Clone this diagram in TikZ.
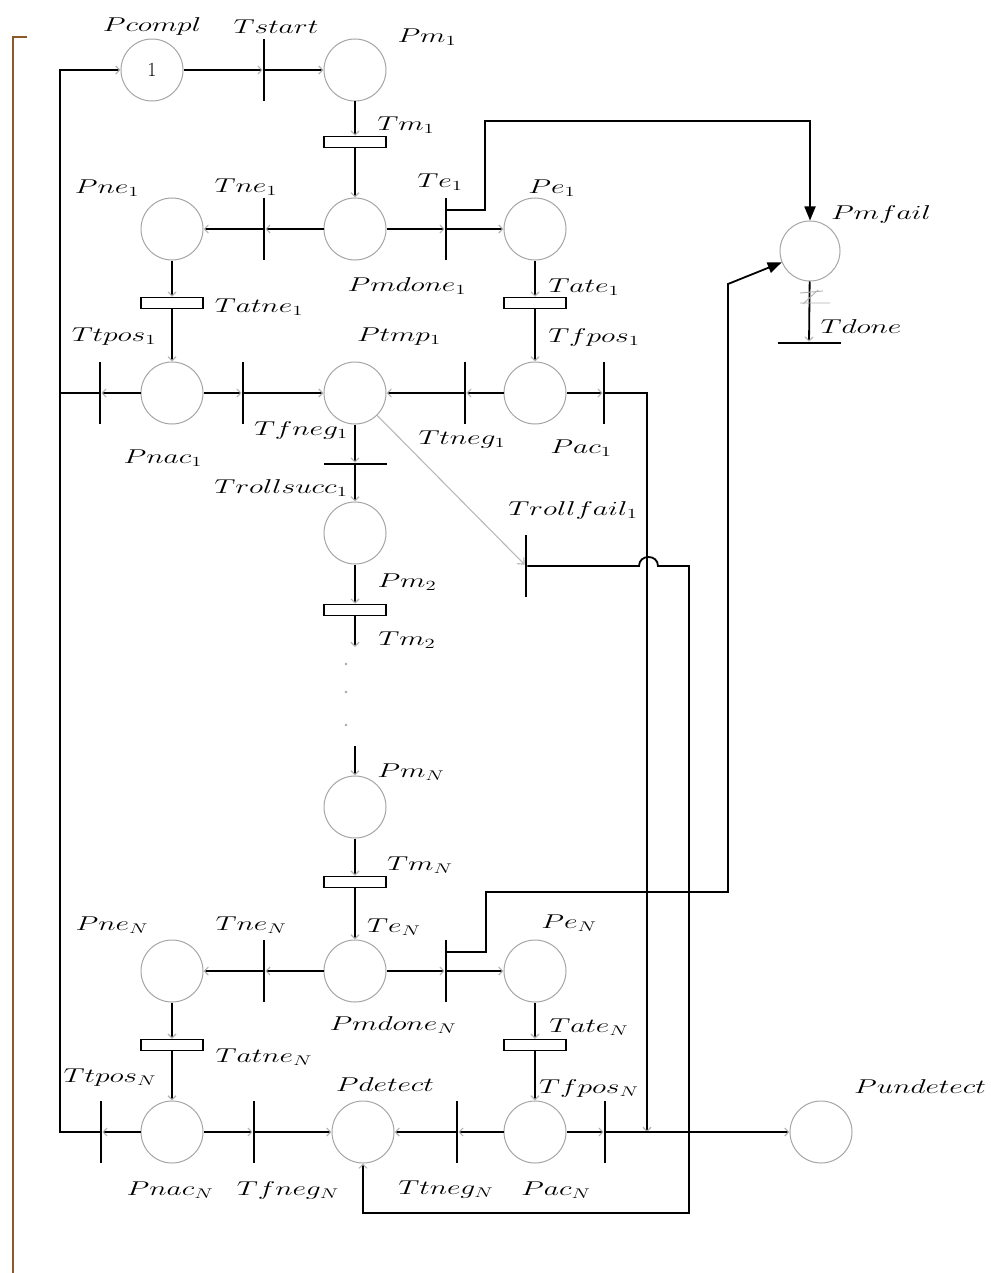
\RequirePackage{fix-cm}
\documentclass[tikz,border=0pt]{standalone}
\usepackage{graphicx}
\usetikzlibrary{arrows.meta}
\newcommand{\lb}[1]{\scalebox{1.48}[1]{$#1$}}
\definecolor{brownline}{RGB}{140,90,40}
\begin{document}
\begin{tikzpicture}[x=1pt,y=-1pt,
  every node/.style={font=\fontsize{20}{24}\selectfont},
  place/.style={circle,draw=gray!70,line width=1pt,minimum size=62pt,inner sep=0pt},
  vbar/.style={rectangle,fill=black,draw=none,minimum width=2.2pt,minimum height=62pt,inner sep=0pt},
  hbar/.style={rectangle,fill=black,draw=none,minimum width=63pt,minimum height=2.2pt,inner sep=0pt},
  timed/.style={rectangle,draw=black,fill=white,line width=1.5pt,minimum width=62pt,minimum height=11pt,inner sep=0pt},
  arc/.style={line width=1.8pt,-{Straight Barb[length=4pt,width=8pt,line width=1.1pt,color=gray!60]}},
  wire/.style={line width=1.8pt},
  bold/.style={line width=1.8pt,-{Triangle[length=14pt,width=11pt]}},
  graydiag/.style={gray!55,line width=1.1pt,-{Straight Barb[length=5pt,width=9pt,line width=1.1pt,color=gray!60]}},
  lab/.style={inner sep=0pt},
]
\useasboundingbox[fill=white] (0,0) rectangle (990,1273);
\draw[brownline,line width=1.5pt] (27,37) -- (13,37) -- (13,1273);

% places and transitions
\node[place] (pcompl) at (152,70) {1};
\node[vbar] (tstart) at (264,70) {};
\node[place] (pm1) at (355,70) {};
\node[timed] (tm1) at (355,142) {};
\node[place] (pmdone1) at (355,229) {};
\node[place] (pne1) at (172,229) {};
\node[vbar] (tne1) at (264,229) {};
\node[vbar] (te1) at (446,229) {};
\node[place] (pe1) at (535,229) {};
\node[timed] (tatne1) at (172,303) {};
\node[timed] (tate1) at (535,303) {};
\node[vbar] (ttpos1) at (100,393) {};
\node[place] (pnac1) at (172,393) {};
\node[vbar] (tfneg1) at (243,393) {};
\node[place] (ptmp1) at (355,393) {};
\node[vbar] (ttneg1) at (465,393) {};
\node[place] (pac1) at (535,393) {};
\node[vbar] (tfpos1) at (604,393) {};
\node[hbar] (trollsucc1) at (355,464) {};
\node[vbar] (trollfail1) at (526,566) {};
\node[place] (pm2) at (355,533) {};
\node[timed] (tm2) at (355,610) {};
\node[place] (pmN) at (355,807) {};
\node[timed] (tmN) at (355,882) {};
\node[place] (pmdoneN) at (355,971) {};
\node[place] (pneN) at (172,971) {};
\node[vbar] (tneN) at (264,971) {};
\node[vbar] (teN) at (446,971) {};
\node[place] (peN) at (535,971) {};
\node[timed] (tatneN) at (172,1045) {};
\node[timed] (tateN) at (535,1045) {};
\node[vbar] (ttposN) at (101,1132) {};
\node[place] (pnacN) at (172,1132) {};
\node[vbar] (tfnegN) at (254,1132) {};
\node[place] (pdetect) at (363,1132) {};
\node[vbar] (ttnegN) at (457,1132) {};
\node[place] (pacN) at (535,1132) {};
\node[vbar] (tfposN) at (605,1132) {};
\node[place] (pundetect) at (821,1132) {};
\node[place,minimum size=60pt] (pmfail) at (810,251) {};
\node[hbar] (tdone) at (809,343) {};

\coordinate (tm2end) at (355,647);
\coordinate (pmNstart) at (355,746);

% labels
\node[lab] (l1) at (152,27) {\lb{Pcompl}};
\node[lab] (l2) at (276,27) {\lb{Tstart}};
\node[lab] (l3) at (427,37) {\lb{Pm_1}};
\node[lab] (l4) at (406,125) {\lb{Tm_1}};
\node[lab] (l5) at (107,188) {\lb{Pne_1}};
\node[lab] (l6) at (246,187) {\lb{Tne_1}};
\node[lab] (l7) at (440,182) {\lb{Te_1}};
\node[lab] (l8) at (552,188) {\lb{Pe_1}};
\node[lab] (l9) at (881,215) {\lb{Pmfail}};
\node[lab] (l10) at (407,286) {\lb{Pmdone_1}};
\node[lab] (l11) at (259,307) {\lb{Tatne_1}};
\node[lab] (l12) at (584,287) {\lb{Tate_1}};
\node[lab] (l13) at (861,327) {\lb{Tdone}};
\node[lab] (l14) at (114,337) {\lb{Ttpos_1}};
\node[lab] (l15) at (399,337) {\lb{Ptmp_1}};
\node[lab] (l16) at (594,337) {\lb{Tfpos_1}};
\node[lab] (l17) at (301,430) {\lb{Tfneg_1}};
\node[lab] (l18) at (462,440) {\lb{Ttneg_1}};
\node[lab] (l19) at (581,448) {\lb{Pac_1}};
\node[lab] (l20) at (163,458) {\lb{Pnac_1}};
\node[lab] (l21) at (281,488) {\lb{Trollsucc_1}};
\node[lab] (l22) at (573,510) {\lb{Trollfail_1}};
\node[lab] (l23) at (407,582) {\lb{Pm_2}};
\node[lab] (l24) at (407,640) {\lb{Tm_2}};
\node[lab] (l25) at (411,772) {\lb{Pm_N}};
\node[lab] (l26) at (420,865) {\lb{Tm_N}};
\node[lab] (l27) at (112,925) {\lb{Pne_N}};
\node[lab] (l28) at (251,925) {\lb{Tne_N}};
\node[lab] (l29) at (394,927) {\lb{Te_N}};
\node[lab] (l30) at (569,923) {\lb{Pe_N}};
\node[lab] (l31) at (393,1025) {\lb{Pmdone_N}};
\node[lab] (l32) at (589,1027) {\lb{Tate_N}};
\node[lab] (l33) at (264,1057) {\lb{Tatne_N}};
\node[lab] (l34) at (110,1078) {\lb{Ttpos_N}};
\node[lab] (l35) at (385,1085) {\lb{Pdetect}};
\node[lab] (l36) at (589,1088) {\lb{Tfpos_N}};
\node[lab] (l37) at (920,1087) {\lb{Pundetect}};
\node[lab] (l38) at (170,1190) {\lb{Pnac_N}};
\node[lab] (l39) at (288,1190) {\lb{Tfneg_N}};
\node[lab] (l40) at (446,1190) {\lb{Ttneg_N}};
\node[lab] (l41) at (556,1190) {\lb{Pac_N}};

% arcs, top part
\draw[arc] (pcompl) -- (tstart);
\draw[arc] (tstart) -- (pm1);
\draw[arc] (pm1) -- (tm1);
\draw[arc] (tm1) -- (pmdone1);
\draw[arc] (pmdone1) -- (tne1);
\draw[arc] (tne1) -- (pne1);
\draw[arc] (pmdone1) -- (te1);
\draw[arc] (te1) -- (pe1);
\draw[arc] (pne1) -- (tatne1);
\draw[arc] (tatne1) -- (pnac1);
\draw[arc] (pe1) -- (tate1);
\draw[arc] (tate1) -- (pac1);
\draw[arc] (pnac1) -- (ttpos1);
\draw[wire] (ttpos1) -- (60,393);
\draw[arc] (pnac1) -- (tfneg1);
\draw[arc] (tfneg1) -- (ptmp1);
\draw[arc] (pac1) -- (ttneg1);
\draw[arc] (ttneg1) -- (ptmp1);
\draw[arc] (pac1) -- (tfpos1);
\draw[arc] (tfpos1) -- (647,393) -- (647,1132);
\draw[arc] (ptmp1) -- (trollsucc1);
\draw[arc] (trollsucc1) -- (pm2);
\draw[graydiag] (ptmp1) -- (trollfail1);
\draw[arc] (trollfail1) -- (639,566) .. controls (639,554) and (658,554) .. (658,566) -- (689,566) -- (689,1213) -- (363,1213) -- (pdetect);
\draw[arc] (pm2) -- (tm2);
\draw[arc] (tm2) -- (tm2end);
\fill[gray!70] (346,664) circle (1.3) (346,692) circle (1.3) (346,725) circle (1.3);
\draw[arc] (pmNstart) -- (pmN);
\draw[arc] (pmN) -- (tmN);
\draw[arc] (tmN) -- (pmdoneN);
\draw[arc] (pmdoneN) -- (tneN);
\draw[arc] (tneN) -- (pneN);
\draw[arc] (pmdoneN) -- (teN);
\draw[arc] (teN) -- (peN);
\draw[arc] (pneN) -- (tatneN);
\draw[arc] (tatneN) -- (pnacN);
\draw[arc] (peN) -- (tateN);
\draw[arc] (tateN) -- (pacN);
\draw[arc] (pnacN) -- (ttposN);
\draw[arc] (ttposN) -- (60,1132) -- (60,70) -- (pcompl);
\draw[arc] (pnacN) -- (tfnegN);
\draw[arc] (tfnegN) -- (pdetect);
\draw[arc] (pacN) -- (ttnegN);
\draw[arc] (ttnegN) -- (pdetect);
\draw[arc] (pacN) -- (tfposN);
\draw[arc] (tfposN) -- (pundetect);

% failure branches
\draw[bold] ([yshift=19pt]te1.center) -- (485,210) -- (485,121) -- (810,121) -- (pmfail);
\draw[bold] ([yshift=19pt]teN.center) -- (486,952) -- (486,892) -- (728,892) -- (728,284) -- (pmfail);
\draw[arc] (pmfail) -- (tdone);
\draw[gray!60,line width=0.9pt] (800,293) -- (823,291) (800,303) -- (830,303) (818,290) -- (803,304);
\end{tikzpicture}
\end{document}
